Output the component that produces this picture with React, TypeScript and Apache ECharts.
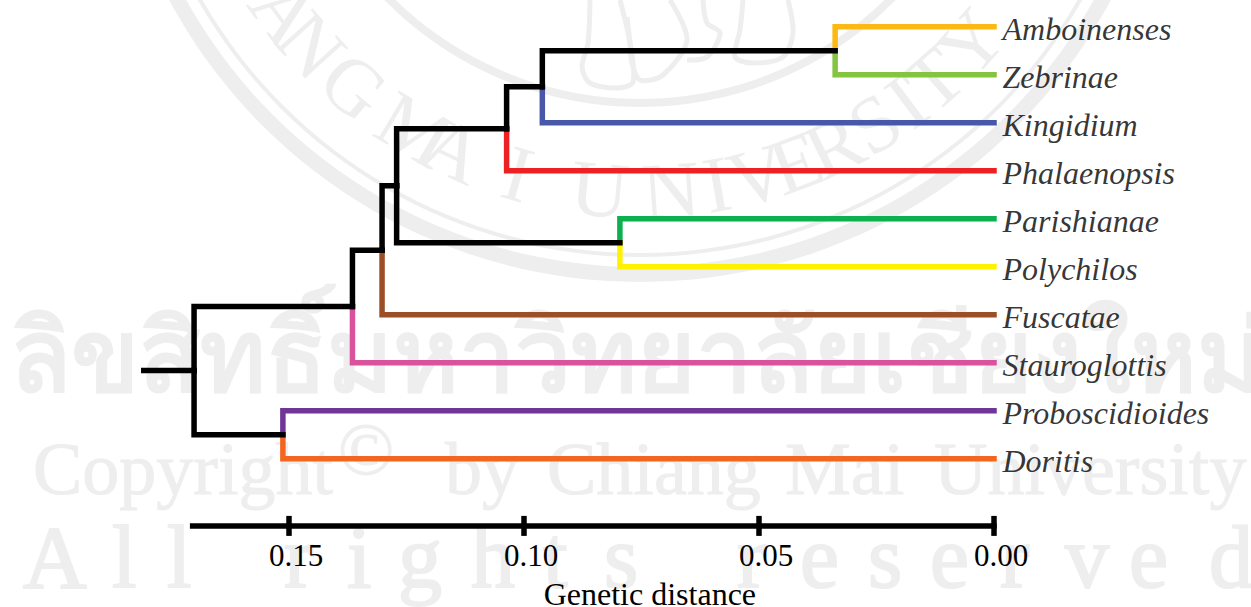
import React, { useEffect, useRef } from "react";
import * as echarts from "echarts";

const taxa = ["Amboinenses","Zebrinae","Kingidium","Phalaenopsis","Parishianae","Polychilos","Fuscatae","Stauroglottis","Proboscidioides","Doritis"];
const taxaColors = ["#fdb913","#84c441","#4658a7","#ed2024","#0bb04f","#fff200","#9c4f27","#da519d","#6f3597","#f36621"];
const tickValues = [0, 0.05, 0.1, 0.15];
const scaleBarEnd = 0.1705;
const scaleBarRow = 10.4;
const rootStemEnd = 0.1809;
// internal nodes: [distance, childA, childB]; children >= 0 are taxa, negative are earlier nodes (-1 = first node)
const nodeDistances = [0.0338, 0.0961, 0.1037, 0.0796, 0.1271, 0.1302, 0.1365, 0.1513, 0.1702];
const nodeChildA = [0, -1, -2, 4, -3, -5, -6, 8, -7];
const nodeChildB = [1, 2, 3, 5, -4, 6, 7, 9, -8];

const sealRings = [[519, 534], [505, 509], [351, 359]];
const sealLetters = ["A","N","G","M","A","I","U","N","I","V","E","R","S","I","T","Y"];
const sealAngles = [-53.4,-47.9,-40.2,-30.6,-24.9,-16,-5.2,4,10,15.4,20.6,26,32,37,41.6,48.3];
const rightsLetters = ["A","l","l","r","i","g","h","t","s","r","e","s","e","r","v","e","d"];
const rightsX = [23,112,167,284,347,398,471,543,604,737,800,868,930,1000,1065,1129,1209];
const copyrightWords = ["Copyright","©","by","Chiang","Mai","University"];
const copyrightX = [33,338,445,547,785,934];
const copyrightY = [506,486,506,506,506,506];
const elephantLines: number[][][] = [
  [[590,0],[588,43],[582,67],[590,83],[617,88],[633,82],[630,43],[620,0]],
  [[627,17],[630,43],[632,63],[640,80],[663,75],[687,40],[670,0]],
  [[703,0],[707,23],[720,33],[707,57],[687,60]],
  [[743,0],[740,30],[735,57],[753,63],[783,57],[793,33],[788,0]],
];

const WM = "#eeeeee";
const SERIF = "'Liberation Serif','Times New Roman',serif";
const CX = 640, CY = -252;

function rowOf(c: number): number {
  return c >= 0 ? c : nodeRow[-c - 1];
}
function distOf(c: number): number {
  return c >= 0 ? 0 : nodeDistances[-c - 1];
}
const nodeRow: number[] = [];
nodeDistances.forEach((_, i) => { nodeRow[i] = (rowOf(nodeChildA[i]) + rowOf(nodeChildB[i])) / 2; });

function branchSeries(): any[] {
  const colored: any[] = [];
  const black: any[] = [];
  nodeDistances.forEach((d, i) => {
    [nodeChildA[i], nodeChildB[i]].forEach((c) => {
      const isTip = c >= 0;
      const s = {
        type: "line",
        data: [[d, nodeRow[i]], [d, rowOf(c)], [distOf(c), rowOf(c)]],
        showSymbol: false,
        clip: false,
        silent: true,
        lineStyle: { color: isTip ? taxaColors[c] : "#000000", width: 5.5, cap: "square", join: "miter" },
      };
      (isTip ? colored : black).push(s);
    });
  });
  const root = nodeDistances.length - 1;
  black.push({
    type: "line",
    data: [[rootStemEnd, nodeRow[root]], [nodeDistances[root], nodeRow[root]]],
    showSymbol: false, clip: false, silent: true,
    lineStyle: { color: "#000000", width: 5.5, cap: "square" },
  });
  black.push({
    type: "line",
    data: [[scaleBarEnd, scaleBarRow], [0, scaleBarRow]],
    showSymbol: false, clip: false, silent: true,
    lineStyle: { color: "#000000", width: 5.5, cap: "square" },
  });
  return [...colored, ...black];
}

function watermark(): any[] {
  const g: any[] = [];
  sealRings.forEach(([r0, r]) => g.push({
    type: "ring", silent: true, z: 0,
    shape: { cx: CX, cy: CY, r, r0 }, style: { fill: WM },
  }));
  elephantLines.forEach((points) => g.push({
    type: "polyline", silent: true, z: 0,
    shape: { points, smooth: 0.3 }, style: { stroke: WM, lineWidth: 5, fill: "none" },
  }));
  sealLetters.forEach((ch, i) => {
    const a = (sealAngles[i] * Math.PI) / 180;
    g.push({
      type: "text", silent: true, z: 0,
      x: CX + 443 * Math.sin(a), y: CY + 443 * Math.cos(a), rotation: a,
      style: { text: ch, fill: WM, font: `80px ${SERIF}`, align: "center", verticalAlign: "middle" },
    });
  });
  g.push({
    type: "text", silent: true, z: 0, x: 10, y: 402,
    style: { text: "ลิขสิทธิ์มหาวิทยาลัยเชียงใหม่", fill: WM, font: `bold 100px 'Noto Sans','DejaVu Sans',sans-serif`, align: "left", verticalAlign: "bottom" },
  });
  copyrightWords.forEach((w, i) => g.push({
    type: "text", silent: true, z: 0, x: copyrightX[i], y: copyrightY[i],
    style: { text: w, fill: WM, stroke: WM, lineWidth: 1, font: `74px ${SERIF}`, align: "left", verticalAlign: "bottom" },
  }));
  rightsLetters.forEach((w, i) => g.push({
    type: "text", silent: true, z: 0, x: rightsX[i], y: 601,
    style: { text: w, fill: WM, stroke: WM, lineWidth: 2, font: `88px ${SERIF}`, align: "left", verticalAlign: "bottom" },
  }));
  return g;
}

export default function App() {
  const ref = useRef<HTMLDivElement>(null);
  useEffect(() => {
    const chart = echarts.init(ref.current!, undefined, { renderer: "svg" });
    const baseX = {
      type: "value", inverse: true, min: 0, max: rootStemEnd, position: "bottom",
      splitLine: { show: false }, minorTick: { show: false },
    };
    chart.setOption({
      animation: false,
      backgroundColor: "#ffffff",
      graphic: watermark(),
      grid: { left: 143.77, right: 257, top: 2.7, height: 523.2, containLabel: false, outerBoundsMode: "none" },
      xAxis: [
        {
          ...baseX,
          axisLine: { show: false, onZero: false },
          axisTick: { show: true, customValues: tickValues, length: 10, lineStyle: { color: "#000000", width: 5.5 } },
          axisLabel: {
            show: true, customValues: tickValues, margin: 14, color: "#000000",
            fontFamily: SERIF, fontSize: 31, padding: [0, 0, 0, 14],
            formatter: (v: number) => v.toFixed(2),
          },
          name: "Genetic distance", nameLocation: "middle", nameGap: 52,
          nameTextStyle: { color: "#000000", fontFamily: SERIF, fontSize: 32, padding: [0, 0, 0, 162] },
        },
        {
          ...baseX,
          axisLine: { show: false, onZero: false },
          axisTick: { show: true, inside: true, customValues: tickValues, length: 10, lineStyle: { color: "#000000", width: 5.5 } },
          axisLabel: { show: false },
        },
      ],
      yAxis: { type: "value", inverse: true, min: -0.5, max: scaleBarRow, show: false },
      series: [
        ...branchSeries(),
        {
          type: "scatter",
          data: taxa.map((t, i) => ({ value: [0, i], name: t })),
          symbolSize: 1, clip: false, silent: true,
          itemStyle: { color: "transparent" },
          label: {
            show: true, position: "right", distance: 8, offset: [0, 2.5], formatter: "{b}",
            color: "#000000", fontFamily: SERIF, fontStyle: "italic", fontSize: 32,
          },
        },
      ],
    });
    return () => chart.dispose();
  }, []);
  return <div ref={ref} style={{ position: "absolute", left: 0, top: 0, width: 1251, height: 607 }} />;
}
